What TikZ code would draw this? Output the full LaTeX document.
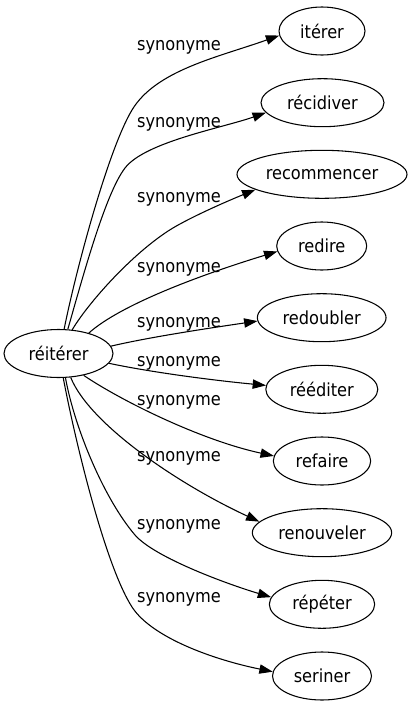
\documentclass[tikz,border=0pt]{standalone}
\usepackage{fontspec}
\setmainfont{DejaVu Sans Condensed}
\usetikzlibrary{arrows.meta,shapes.geometric}
\begin{document}
\begin{tikzpicture}[x=0.75pt,y=-0.75pt,
  font=\fontsize{13.5}{16}\selectfont,
  word/.style={draw, ellipse, inner sep=0pt, minimum height=36pt, line width=0.8pt},
  lab/.style={anchor=base, inner sep=0pt},
  edge/.style={line width=0.8pt, -{Triangle[length=10pt,width=7pt]}}]
\useasboundingbox (0,0) rectangle (412,707);
% nodes
\node[word, minimum width=81.75pt] (src) at (58.5,353.5) {réitérer};
\node[word, minimum width=64.5pt]  (t1)  at (322,31)    {itérer};
\node[word, minimum width=92.25pt] (t2)  at (322.5,102.7) {récidiver};
\node[word, minimum width=127.5pt] (t3)  at (322,174.3) {recommencer};
\node[word, minimum width=67.5pt]  (t4)  at (321.7,246) {redire};
\node[word, minimum width=96.5pt]  (t5)  at (321.7,317.7) {redoubler};
\node[word, minimum width=84pt]    (t6)  at (321.8,389.3) {rééditer};
\node[word, minimum width=73pt]    (t7)  at (322,461)   {refaire};
\node[word, minimum width=104.5pt] (t8)  at (322,532.7) {renouveler};
\node[word, minimum width=79pt]    (t9)  at (322,604.3) {répéter};
\node[word, minimum width=74.25pt] (t10) at (322,676)   {seriner};
% labels
\node[lab] (l1)  at (179,50)  {synonyme};
\node[lab] (l2)  at (179,127) {synonyme};
\node[lab] (l3)  at (179,202) {synonyme};
\node[lab] (l4)  at (179,272) {synonyme};
\node[lab] (l5)  at (179,327) {synonyme};
\node[lab] (l6)  at (179,366) {synonyme};
\node[lab] (l7)  at (179,405) {synonyme};
\node[lab] (l8)  at (179,461) {synonyme};
\node[lab] (l9)  at (179,529) {synonyme};
\node[lab] (l10) at (179,602) {synonyme};
% edges
\draw[edge] (src.77) .. controls (76,270) and (108,150) .. (132,110)
  .. controls (156,70) and (219,57) .. (t1.186.8);
\draw[edge] (src.69) .. controls (82,280) and (105,194) .. (125,168)
  .. controls (145,142) and (222,128) .. (t2.190.5);
\draw[edge] (src.60) .. controls (90,300) and (140,245) .. (180,224)
  .. controls (200,213) and (230,200) .. (t3.193.6);
\draw[edge] (src.34.4) .. controls (120,305) and (200,275) .. (t4.187.8);
\draw[edge] (src.8.7) .. controls (150,337) and (210,328) .. (t5.183.9);
\draw[edge] (src.-11.5) .. controls (150,372) and (210,380) .. (t6.176.6);
\draw[edge] (src.-41.2) .. controls (120,400) and (200,440) .. (t7.174);
\draw[edge] (src.-63.9) .. controls (90,425) and (180,485) .. (t8.170.2);
\draw[edge] (src.-74.7) .. controls (75,430) and (105,500) .. (135,535)
  .. controls (155,558) and (230,585) .. (t9.172.8);
\draw[edge] (src.-79.3) .. controls (75,440) and (105,565) .. (132,607)
  .. controls (152,638) and (215,660) .. (t10.175.3);
\end{tikzpicture}
\end{document}
